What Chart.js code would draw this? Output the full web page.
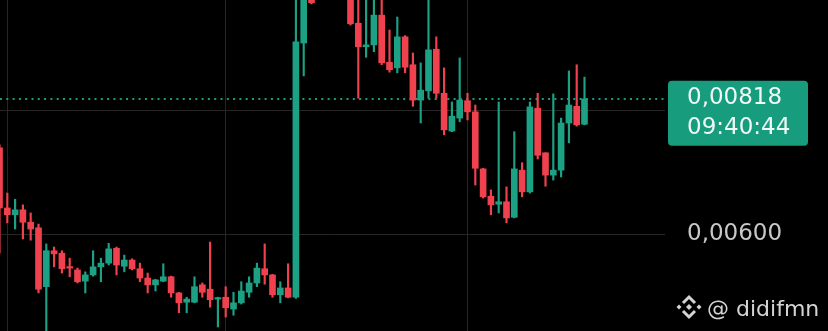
<!DOCTYPE html>
<html><head><meta charset="utf-8">
<script src="https://cdn.jsdelivr.net/npm/chart.js@4/dist/chart.umd.min.js"></script>
<style>html,body{margin:0;padding:0;background:#000;overflow:hidden}#wrap{width:828px;height:331px;position:relative}</style>
</head><body><div id="wrap"><canvas id="c" width="828" height="331"></canvas></div>
<script>
const candleIndex = [0,1,2,3,4,5,6,7,8,9,10,11,12,13,14,15,16,17,18,19,20,21,22,23,24,25,26,27,28,29,30,31,32,33,34,35,36,37,38,39,40,41,42,43,44,45,46,47,48,49,50,51,52,53,54,55,56,57,58,59,60,61,62,63,64,65,66,67,68,69,70,71,72,73,74,75];
const opens = [0.00739,0.00642,0.00631,0.00639,0.00619,0.00610,0.00515,0.00573,0.00569,0.00547,
0.00542,0.00524,0.00534,0.00547,0.00553,0.00577,0.00548,0.00558,0.00544,0.00529,
0.00518,0.00524,0.00531,0.00505,0.00490,0.00490,0.00518,0.00511,0.00495,0.00498,
0.00479,0.00489,0.00506,0.00521,0.00544,0.00534,0.00502,0.00513,0.00498,0.00908,
0.01010,0.00985,0.01010,0.01030,0.01005,0.00995,0.00940,0.00902,0.00905,0.00953,
0.00877,0.00868,0.00918,0.00873,0.00816,0.00831,0.00898,0.00827,0.00766,0.00787,
0.00815,0.00797,0.00705,0.00661,0.00648,0.00652,0.00627,0.00703,0.00668,0.00803,
0.00731,0.00695,0.00703,0.00779,0.00806,0.00777];
const highs = [0.00744,0.00666,0.00656,0.00647,0.00634,0.00616,0.00584,0.00579,0.00573,0.00561,
0.00545,0.00539,0.00573,0.00561,0.00585,0.00579,0.00566,0.00560,0.00553,0.00537,
0.00527,0.00552,0.00532,0.00506,0.00498,0.00531,0.00521,0.00587,0.00498,0.00515,
0.00506,0.00523,0.00531,0.00553,0.00584,0.00535,0.00523,0.00552,0.00985,0.01000,
0.01020,0.01030,0.01045,0.01050,0.01020,0.01005,0.00980,0.00980,0.00982,0.00980,
0.00929,0.00950,0.00920,0.00892,0.00876,0.00977,0.00918,0.00868,0.00813,0.00884,
0.00827,0.00808,0.00706,0.00671,0.00813,0.00676,0.00765,0.00715,0.00813,0.00827,
0.00731,0.00826,0.00787,0.00863,0.00873,0.00853];
const lows = [0.00569,0.00618,0.00608,0.00592,0.00590,0.00505,0.00421,0.00547,0.00537,0.00531,
0.00521,0.00505,0.00532,0.00523,0.00550,0.00534,0.00539,0.00542,0.00523,0.00505,
0.00508,0.00523,0.00498,0.00473,0.00473,0.00489,0.00498,0.00482,0.00450,0.00466,
0.00469,0.00487,0.00498,0.00515,0.00519,0.00498,0.00489,0.00497,0.00496,0.00855,
0.00971,0.00982,0.00990,0.00995,0.00985,0.00937,0.00819,0.00885,0.00894,0.00873,
0.00861,0.00860,0.00860,0.00806,0.00779,0.00819,0.00819,0.00760,0.00765,0.00781,
0.00784,0.00679,0.00658,0.00631,0.00634,0.00618,0.00626,0.00660,0.00666,0.00721,
0.00677,0.00687,0.00692,0.00747,0.00774,0.00776];
const closes = [0.00642,0.00631,0.00639,0.00619,0.00608,0.00511,0.00573,0.00568,0.00544,0.00545,
0.00523,0.00534,0.00547,0.00553,0.00576,0.00550,0.00558,0.00544,0.00529,0.00518,
0.00526,0.00531,0.00505,0.00489,0.00495,0.00515,0.00506,0.00494,0.00497,0.00481,
0.00489,0.00508,0.00521,0.00545,0.00534,0.00502,0.00513,0.00498,0.00910,0.00990,
0.00973,0.01010,0.01030,0.01005,0.01000,0.00939,0.00902,0.00905,0.00953,0.00876,
0.00865,0.00918,0.00869,0.00816,0.00832,0.00897,0.00827,0.00768,0.00790,0.00816,
0.00797,0.00706,0.00660,0.00647,0.00652,0.00626,0.00705,0.00668,0.00805,0.00727,
0.00695,0.00703,0.00779,0.00808,0.00776,0.00818];
const priceTicks = [0.006, 0.008];
const timeGridTicks = [1, 29, 60];
const countdownLabel = '09:40:44';
const watermarkText = '@ didifmn';

const GREEN = '#1ca184', RED = '#ef424e', TAG = '#179c7e', GRID = '#262626';
const FONT = 'DejaVu Sans';
const fmt = v => v.toFixed(5).replace('.', ',');
const colors = closes.map((c, i) => c >= opens[i] ? GREEN : RED);

const lastPricePlugin = {
  id: 'lastPrice',
  beforeDatasetsDraw(chart) {
    const {ctx, chartArea, scales: {y}} = chart;
    const py = Math.round(y.getPixelForValue(closes[closes.length - 1]));
    ctx.save();
    ctx.strokeStyle = TAG; ctx.lineWidth = 2; ctx.setLineDash([2, 4.3]);
    ctx.beginPath(); ctx.moveTo(chartArea.left, py); ctx.lineTo(chartArea.right, py); ctx.stroke();
    ctx.restore();
  },
  afterDraw(chart) {
    const {ctx, chartArea, scales: {y}} = chart;
    const last = closes[closes.length - 1];
    const py = y.getPixelForValue(last);
    const x0 = chartArea.right + 3, w = 140, top = py - 18, h = 65;
    ctx.save();
    ctx.fillStyle = TAG;
    ctx.beginPath(); ctx.roundRect(x0, top, w, h, 4); ctx.fill();
    ctx.fillStyle = '#eef8f4';
    ctx.font = '23px "' + FONT + '"';
    ctx.textAlign = 'left'; ctx.textBaseline = 'middle';
    ctx.fillText(fmt(last), chartArea.right + 22, py - 1);
    ctx.fillText(countdownLabel, chartArea.right + 22, py + 29);
    // watermark
    ctx.fillStyle = '#d4d4d4'; ctx.strokeStyle = '#d4d4d4';
    ctx.font = '22px "' + FONT + '"';
    ctx.textBaseline = 'alphabetic';
    ctx.fillText(watermarkText, 707, 316);
    const cx = 689, cy = 307;
    const dia = (x, yy, r) => { ctx.beginPath(); ctx.moveTo(x, yy - r); ctx.lineTo(x + r, yy); ctx.lineTo(x, yy + r); ctx.lineTo(x - r, yy); ctx.closePath(); ctx.fill(); };
    dia(cx, cy, 3); dia(cx - 10, cy, 2.5); dia(cx + 10, cy, 2.5);
    ctx.lineWidth = 3; ctx.lineJoin = 'miter';
    ctx.beginPath(); ctx.moveTo(cx - 6, cy - 4); ctx.lineTo(cx, cy - 10); ctx.lineTo(cx + 6, cy - 4); ctx.stroke();
    ctx.beginPath(); ctx.moveTo(cx - 6, cy + 4); ctx.lineTo(cx, cy + 10); ctx.lineTo(cx + 6, cy + 4); ctx.stroke();
    ctx.restore();
  }
};

new Chart(document.getElementById('c'), {
  type: 'bar',
  data: {
    datasets: [
      { label: 'wick', data: candleIndex.map((x, i) => ({x, y: [lows[i], highs[i]]})), backgroundColor: colors, barThickness: 1.5, grouped: false, order: 2 },
      { label: 'body', data: candleIndex.map((x, i) => ({x, y: [opens[i], closes[i]]})), backgroundColor: colors, barThickness: 6, grouped: false, minBarLength: 1.5, order: 1 }
    ]
  },
  options: {
    responsive: false, animation: false, devicePixelRatio: 1,
    layout: {padding: 0},
    plugins: {legend: {display: false}, tooltip: {enabled: false}},
    scales: {
      x: {
        type: 'linear', min: 0.064, max: 85.32, offset: false,
        grid: {color: GRID, lineWidth: 1, drawTicks: false, offset: false},
        border: {display: false},
        ticks: {display: false},
        afterBuildTicks: s => { s.ticks = timeGridTicks.map(v => ({value: v})); },
        afterFit: s => { s.height = 0; s.paddingLeft = 0; s.paddingRight = 0; }
      },
      y: {
        type: 'linear', position: 'right', min: 0.0044355, max: 0.0097742,
        grid: {color: GRID, lineWidth: 1, drawTicks: false},
        border: {display: false},
        ticks: {color: '#c8c8c8', padding: 22, font: {family: FONT, size: 23}, callback: v => fmt(v)},
        afterBuildTicks: s => { s.ticks = priceTicks.map(v => ({value: v})); },
        afterFit: s => { s.width = 163; s.paddingTop = 0; s.paddingBottom = 0; }
      }
    }
  },
  plugins: [lastPricePlugin]
});
</script>
</body></html>
